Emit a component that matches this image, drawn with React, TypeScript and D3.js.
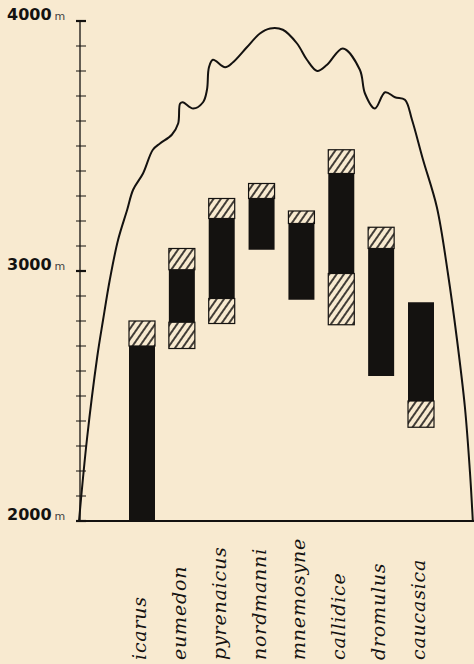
import * as d3 from "d3";

// species, left to right
const species = ["icarus", "eumedon", "pyrenaicus", "nordmanni", "mnemosyne", "callidice", "dromulus", "caucasica"];
// altitudes in metres: hatched zone top, black zone top/bottom, hatched zone bottom
const rangeTop = [2800, 3090, 3290, 3350, 3240, 3485, 3175, 2875];
const coreTop = [2700, 3005, 3210, 3290, 3190, 3390, 3090, 2875];
const coreBottom = [2000, 2795, 2890, 3085, 2885, 2990, 2580, 2480];
const rangeBottom = [2000, 2690, 2790, 3085, 2885, 2785, 2580, 2375];

// mountain profile: distance (0-100) and altitude
const profileDist = [0, 2, 4.6, 6.1, 7.8, 9.9, 12.2, 13.7, 16.2, 18.7, 20.5, 23.5, 25.1, 25.6, 26.3, 28.9, 31.4, 32.4, 32.9, 33.9, 37, 39, 42.5, 45.8, 48.4, 51.6, 55.2, 57.7, 60.3, 62.8, 66.8, 71.1, 72.4, 74.9, 77.5, 80, 82.5, 84.3, 87.1, 90.6, 93.4, 95.7, 97.7, 99, 99.7];
const profileAlt = [2000, 2325, 2655, 2805, 2965, 3125, 3245, 3325, 3390, 3485, 3510, 3545, 3590, 3670, 3675, 3650, 3675, 3725, 3815, 3845, 3815, 3835, 3895, 3950, 3970, 3965, 3910, 3845, 3800, 3825, 3890, 3805, 3710, 3650, 3715, 3695, 3685, 3605, 3445, 3255, 2990, 2725, 2455, 2190, 2000];

const axisLabels = [2000, 3000, 4000];

const bg = "#f8ead0";
const ink = "#141210";

export default function App() {
  const W = 474;
  const H = 664;
  const axisX = 80;

  const y = d3.scaleLinear().domain([2000, 4000]).range([521, 21]);
  const xProfile = d3.scaleLinear().domain([0, 100]).range([79, 474]);
  const xBar = d3.scalePoint<string>().domain(species).range([142, 421]);
  const barW = 26;

  const profile = d3
    .line<number>()
    .x((d, i) => xProfile(profileDist[i]))
    .y((d) => y(d))
    .curve(d3.curveCatmullRom.alpha(0.5));

  const minorTicks = y.ticks(20);

  return (
    <div style={{ position: "absolute", left: 0, top: 0, width: W, height: H, background: bg }}>
      <svg width={W} height={H}>
        <defs>
          <pattern id="hatch" width="6" height="6" patternUnits="userSpaceOnUse" patternTransform="rotate(35)">
            <rect width="6" height="6" fill={bg} />
            <line x1="1" y1="0" x2="1" y2="6" stroke={ink} strokeWidth="1.6" />
          </pattern>
        </defs>

        {/* axis */}
        <line x1={axisX} x2={axisX} y1={y(4000)} y2={y(2000)} stroke={ink} strokeWidth={1.3} />
        {minorTicks.map((t) => (
          <line
            key={t}
            x1={axisX - 4}
            x2={axisX + 6}
            y1={y(t)}
            y2={y(t)}
            stroke={ink}
            strokeWidth={t % 1000 === 0 ? 2.2 : 1}
          />
        ))}
        {axisLabels.map((t) => (
          <text key={t} x={7} y={y(t) - 1} fill={ink} fontFamily="DejaVu Sans" >
            <tspan fontSize={16} fontWeight="bold">{t}</tspan>
            <tspan fontSize={11} dx={3} fill="#444">m</tspan>
          </text>
        ))}

        {/* baseline */}
        <line x1={axisX - 2} x2={W} y1={y(2000)} y2={y(2000)} stroke={ink} strokeWidth={2} />

        {/* mountain profile */}
        <path d={profile(profileAlt) ?? ""} fill="none" stroke={ink} strokeWidth={2} />

        {/* bars */}
        {species.map((s, i) => {
          const x0 = (xBar(s) ?? 0) - barW / 2;
          return (
            <g key={s}>
              {rangeTop[i] > coreTop[i] && (
                <rect x={x0} y={y(rangeTop[i])} width={barW} height={y(coreTop[i]) - y(rangeTop[i])}
                  fill="url(#hatch)" stroke={ink} strokeWidth={1.2} />
              )}
              <rect x={x0} y={y(coreTop[i])} width={barW} height={y(coreBottom[i]) - y(coreTop[i])} fill={ink} />
              {coreBottom[i] > rangeBottom[i] && (
                <rect x={x0} y={y(coreBottom[i])} width={barW} height={y(rangeBottom[i]) - y(coreBottom[i])}
                  fill="url(#hatch)" stroke={ink} strokeWidth={1.2} />
              )}
            </g>
          );
        })}

        {/* species names */}
        {species.map((s) => {
          const cx = (xBar(s) ?? 0) + 4;
          return (
            <text
              key={s}
              transform={`translate(${cx},660) rotate(-90)`}
              fontFamily="DejaVu Serif"
              fontStyle="italic"
              fontSize={19}
              letterSpacing={0.8}
              fill={ink}
            >
              {s}
            </text>
          );
        })}
      </svg>
    </div>
  );
}
